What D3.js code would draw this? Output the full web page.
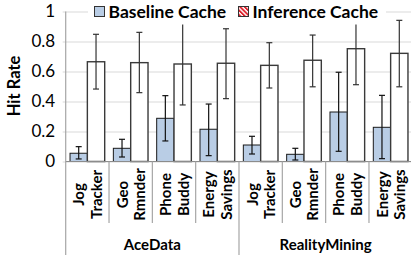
<!DOCTYPE html>
<html>
<head>
<meta charset="utf-8">
<script src="https://cdn.jsdelivr.net/npm/d3@7"></script>
<style>
  body { margin: 0; background: #fff; }
  svg { display: block; font-family: Lato, 'Open Sans', sans-serif; }
  .grid line { stroke: #d9d9d9; }
  .grid path { display: none; }
</style>
</head>
<body>
<svg id="chart" width="411" height="257"></svg>
<script>
// ---- data ----
var groups = ['AceData', 'RealityMining'];
var apps = [['Jog', 'Tracker'], ['Geo', 'Rmnder'], ['Phone', 'Buddy'], ['Energy', 'Savings']];
var series = ['Baseline Cache', 'Inference Cache'];
var yTicks = [0, 0.2, 0.4, 0.6, 0.8, 1];

var baseline   = [0.055, 0.088, 0.288, 0.215, 0.110, 0.048, 0.330, 0.228];
var baselineLo = [0.017, 0.030, 0.137, 0.039, 0.050, 0.010, 0.068, 0.019];
var baselineHi = [0.099, 0.148, 0.439, 0.383, 0.168, 0.088, 0.595, 0.441];
var inference   = [0.665, 0.659, 0.650, 0.655, 0.641, 0.675, 0.752, 0.721];
var inferenceLo = [0.483, 0.459, 0.377, 0.419, 0.490, 0.498, 0.512, 0.498];
var inferenceHi = [0.848, 0.861, 0.950, 0.885, 0.792, 0.843, 0.950, 0.941];

var svg = d3.select('#chart');
var margin = {left: 65.7, top: 11.5, right: -1.3, bottom: 95.5};
var width = 411 - margin.left - margin.right;
var height = 257 - margin.top - margin.bottom;

// one row per bar category (group x app)
var rows = [];
groups.forEach(function(g, gi) {
  apps.forEach(function(a, ai) {
    var i = gi * apps.length + ai;
    rows.push({
      key: g + '-' + ai, group: g, app: a,
      vals: [
        {s: series[0], v: baseline[i], lo: baselineLo[i], hi: baselineHi[i]},
        {s: series[1], v: inference[i], lo: inferenceLo[i], hi: inferenceHi[i]}
      ]
    });
  });
});

var x0 = d3.scaleBand().domain(rows.map(function(d) { return d.key; }))
  .range([0, width]).padding(0);
var x1 = d3.scaleBand().domain(series).range([0, x0.bandwidth()])
  .paddingInner(0).paddingOuter(0.25);
var y = d3.scaleLinear().domain([0, 1]).range([height, 0]);

// hatch used only by the legend swatch of the second series
var defs = svg.append('defs');
var pat = defs.append('pattern').attr('id', 'hatch')
  .attr('patternUnits', 'userSpaceOnUse').attr('width', 3.2).attr('height', 3.2)
  .attr('patternTransform', 'rotate(-45)');
pat.append('rect').attr('width', 3.2).attr('height', 3.2).attr('fill', '#fff');
pat.append('rect').attr('width', 1.8).attr('height', 3.2).attr('fill', '#e0202a');

var g = svg.append('g').attr('transform', 'translate(' + margin.left + ',' + margin.top + ')');

// gridlines
g.append('g').attr('class', 'grid')
  .call(d3.axisLeft(y).tickValues(yTicks).tickSize(-width).tickFormat(''))
  .selectAll('line').attr('x1', -3);

// y tick labels
g.append('g').selectAll('text').data(yTicks).enter().append('text')
  .attr('x', -10.5).attr('y', function(d) { return y(d); }).attr('dy', '0.35em')
  .attr('text-anchor', 'end').attr('font-size', 17).attr('fill', '#000')
  .text(function(d) { return d3.format('')(+d.toFixed(1)); });

svg.append('text')
  .attr('transform', 'translate(20,86) rotate(-90)')
  .attr('text-anchor', 'middle').attr('font-size', 16.5).attr('font-weight', 'bold')
  .text('Hit Rate');

// bars
var cat = g.selectAll('.cat').data(rows).enter().append('g')
  .attr('class', 'cat')
  .attr('transform', function(d) { return 'translate(' + x0(d.key) + ',0)'; });

cat.selectAll('rect').data(function(d) { return d.vals; }).enter().append('rect')
  .attr('x', function(d) { return x1(d.s); })
  .attr('y', function(d) { return y(d.v); })
  .attr('width', x1.bandwidth())
  .attr('height', function(d) { return y(0) - y(d.v); })
  .attr('fill', function(d, i) { return i === 0 ? '#b9cde5' : '#fff'; })
  .attr('stroke', function(d, i) { return i === 0 ? '#1a1a1a' : '#3a3a3a'; })
  .attr('stroke-width', function(d, i) { return i === 0 ? 1 : 1.4; });

// error bars
var err = cat.selectAll('.err').data(function(d) { return d.vals; }).enter().append('g')
  .attr('class', 'err')
  .attr('transform', function(d) { return 'translate(' + (x1(d.s) + x1.bandwidth() / 2) + ',0)'; })
  .attr('stroke', function(d, i) { return i === 0 ? '#111' : '#333'; })
  .attr('stroke-width', 1.2);
err.append('line').attr('y1', function(d) { return y(d.lo); }).attr('y2', function(d) { return y(d.hi); });
err.append('line').attr('x1', -3).attr('x2', 3)
  .attr('y1', function(d) { return y(d.lo); }).attr('y2', function(d) { return y(d.lo); });
err.append('line').attr('x1', -3).attr('x2', 3)
  .attr('y1', function(d) { return y(d.hi); }).attr('y2', function(d) { return y(d.hi); });

// x axis line and category separators
g.append('line').attr('x1', 0).attr('x2', width).attr('y1', height).attr('y2', height)
  .attr('stroke', '#8c8c8c').attr('stroke-width', 1.2);
var bounds = rows.map(function(d) { return x0(d.key); }).concat([width]);
g.selectAll('.sep').data(bounds).enter().append('line')
  .attr('x1', function(d) { return d; }).attr('x2', function(d) { return d; })
  .attr('y1', function(d, i) { return i === 0 ? 0 : height; })
  .attr('y2', function(d, i) { return (i % apps.length === 0) ? 243.5 : 211.5; })
  .attr('stroke', '#a6a6a6').attr('stroke-width', 1.2);

// category labels (two lines, rotated)
var lab = g.selectAll('.lab').data(rows).enter().append('text')
  .attr('transform', function(d) {
    return 'translate(' + (x0(d.key) + x0.bandwidth() / 2) + ',' + (height + 33) + ') rotate(-90)';
  })
  .attr('text-anchor', 'middle').attr('font-size', 15).attr('font-weight', 'bold');
lab.append('tspan').attr('x', 0).attr('y', -3).text(function(d) { return d.app[0]; });
lab.append('tspan').attr('x', 0).attr('y', 14.5).text(function(d) { return d.app[1]; });

// group labels
g.selectAll('.grp').data(groups).enter().append('text')
  .attr('x', function(d, i) { return x0(d + '-0') + x0.bandwidth() * apps.length / 2; })
  .attr('y', 238)
  .attr('text-anchor', 'middle').attr('font-size', 15).attr('font-weight', 'bold')
  .text(function(d) { return d; });

// legend (white box covers top gridline and clipped whiskers)
var leg = svg.append('g');
leg.append('rect').attr('x', 88).attr('y', 0).attr('width', 298).attr('height', 24.5).attr('fill', '#fff');
var legX = [94.5, 238.5];
var li = leg.selectAll('.li').data(series).enter().append('g')
  .attr('transform', function(d, i) { return 'translate(' + legX[i] + ',6.5)'; });
li.append('rect').attr('width', 10).attr('height', 10)
  .attr('fill', function(d, i) { return i === 0 ? '#b9cde5' : 'url(#hatch)'; })
  .attr('stroke', '#333');
li.append('text').attr('x', 14).attr('y', 11).attr('font-size', 17.5).attr('font-weight', 'bold')
  .text(function(d) { return d; });
</script>
</body>
</html>
